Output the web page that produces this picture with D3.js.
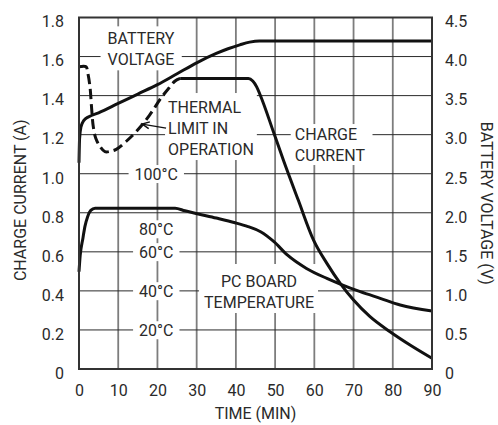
<!DOCTYPE html>
<html>
<head>
<meta charset="utf-8">
<script src="https://cdn.jsdelivr.net/npm/d3@7"></script>
<style>
  html, body { margin: 0; padding: 0; background: #fff; }
  svg { display: block; }
  text { font-family: Roboto, "Liberation Sans", sans-serif; font-size: 16px; fill: #2a2a2a; }
</style>
</head>
<body>
<svg id="chart" width="498" height="425"></svg>
<script>
// ---------- data ----------
const xTicks = [0, 10, 20, 30, 40, 50, 60, 70, 80, 90];
const yLeftTicks = [0, 0.2, 0.4, 0.6, 0.8, 1.0, 1.2, 1.4, 1.6, 1.8];
const yLeftTickLabels = ["0", "0.2", "0.4", "0.6", "0.8", "1.0", "1.2", "1.4", "1.6", "1.8"];
const yRightTicks = [0, 0.5, 1.0, 1.5, 2.0, 2.5, 3.0, 3.5, 4.0, 4.5];
const yRightTickLabels = ["0", "0.5", "1.0", "1.5", "2.0", "2.5", "3.0", "3.5", "4.0", "4.5"];

// Battery voltage (V), time in minutes
const voltTime = [0, 0.15, 0.5, 1.2, 2.5, 5, 10, 15, 20, 25, 30, 35, 38, 41, 43.5, 46, 90];
const voltValue = [2.64, 2.95, 3.1, 3.18, 3.23, 3.28, 3.4, 3.52, 3.64, 3.78, 3.92, 4.04, 4.1, 4.15, 4.185, 4.2, 4.2];

// Charge current (A) while thermal limit in operation (dashed)
const limitTime = [0, 1.8, 2.2, 2.8, 3.2, 3.65, 4.3, 5.4, 6.6, 8, 9.5, 12, 15, 18, 21, 23, 24.5, 25.8];
const limitValue = [1.548, 1.548, 1.52, 1.445, 1.34, 1.24, 1.18, 1.138, 1.113, 1.115, 1.125, 1.165, 1.225, 1.3, 1.39, 1.44, 1.475, 1.488];

// Charge current (A), solid
const currentTime = [25.8, 43.2, 44.3, 45.3, 46.2, 49.7, 52.1, 55.9, 59.8, 63.2, 66.6, 70, 74.2, 79.3, 84.4, 90];
const currentValue = [1.488, 1.488, 1.475, 1.445, 1.403, 1.207, 1.07, 0.865, 0.66, 0.541, 0.439, 0.353, 0.268, 0.191, 0.123, 0.055];

// PC board temperature (°C)
const tempTime = [0, 0.3, 1.0, 1.5, 2.2, 3, 4.1, 23.6, 24.5, 27, 30.4, 35, 39.8, 43.1, 46.3, 49.7, 53.1, 58, 63.2, 66.6, 71.7, 76.8, 81.9, 90];
const tempValue = [49.8, 58, 67, 72.9, 78, 81.2, 82.3, 82.3, 82.3, 81, 79.4, 77.3, 74.9, 72.9, 70.3, 65.2, 58.4, 51.5, 46.4, 43.5, 39.6, 36.2, 32.8, 29.7];

// temperature scale labels (°C), placed along the 20-minute line
const tempLabels = ["20°C", "40°C", "60°C", "80°C", "100°C"];
const tempLabelPos = [20, 40, 60, 71.7, 100];

// ---------- layout ----------
const svg = d3.select("#chart");
const margin = { left: 79, top: 17.5, right: 66, bottom: 56 };
const W = 498, H = 425;
const x = d3.scaleLinear().domain([0, 90]).range([margin.left, W - margin.right]);
const yL = d3.scaleLinear().domain([0, 1.8]).range([H - margin.bottom, margin.top]);
const yR = d3.scaleLinear().domain([0, 4.5]).range([H - margin.bottom, margin.top]);
const tempToAmp = c => c / 100;

const gGrid = svg.append("g");
const gBg = svg.append("g");
const gLines = svg.append("g");
const gText = svg.append("g");

// grid lines
gGrid.selectAll("line.v").data(xTicks.slice(1, -1)).join("line")
  .attr("x1", d => x(d)).attr("x2", d => x(d))
  .attr("y1", yL(0)).attr("y2", yL(1.8))
  .attr("stroke", "#7d7d7d").attr("stroke-width", 1.8);
gGrid.selectAll("line.h").data(yLeftTicks.slice(1, -1)).join("line")
  .attr("x1", x(0)).attr("x2", x(90))
  .attr("y1", d => yL(d)).attr("y2", d => yL(d))
  .attr("stroke", "#2a2a2a").attr("stroke-width", 1);

// axes (labels only, no tick marks)
const axL = d3.axisLeft(yL).tickValues(yLeftTicks).tickFormat((d, i) => yLeftTickLabels[i]).tickSize(0).tickPadding(15);
const axR = d3.axisRight(yR).tickValues(yRightTicks).tickFormat((d, i) => yRightTickLabels[i]).tickSize(0).tickPadding(13);
const axB = d3.axisBottom(x).tickValues(xTicks).tickSize(0).tickPadding(16);
[[axL, `translate(${x(0)},0)`, "0.58em"], [axR, `translate(${x(90)},0)`, "0.58em"], [axB, `translate(0,${yL(0)})`, null]].forEach(([ax, tr, dy]) => {
  const g = svg.append("g").attr("transform", tr).call(ax);
  g.select(".domain").remove();
  const t = g.selectAll("text").attr("font-family", "Roboto, 'Liberation Sans', sans-serif").attr("font-size", 16).attr("fill", "#2a2a2a");
  if (dy) t.attr("dy", dy);
});

// curves
const line = d3.line().curve(d3.curveMonotoneX);
gLines.append("path")
  .attr("d", line(voltTime.map((t, i) => [x(t), yR(voltValue[i])])))
  .attr("fill", "none").attr("stroke", "#111").attr("stroke-width", 3);
gLines.append("path")
  .attr("d", d3.line().curve(d3.curveCatmullRom)(limitTime.map((t, i) => [x(t), yL(limitValue[i])])))
  .attr("fill", "none").attr("stroke", "#111").attr("stroke-width", 3).attr("stroke-dasharray", "10,5");
gLines.append("path")
  .attr("d", line(currentTime.map((t, i) => [x(t), yL(currentValue[i])])))
  .attr("fill", "none").attr("stroke", "#111").attr("stroke-width", 3);
gLines.append("path")
  .attr("d", line(tempTime.map((t, i) => [x(t), yL(tempToAmp(tempValue[i]))])))
  .attr("fill", "none").attr("stroke", "#111").attr("stroke-width", 3);

// frame
svg.append("rect").attr("x", x(0)).attr("y", yL(1.8))
  .attr("width", x(90) - x(0)).attr("height", yL(0) - yL(1.8))
  .attr("fill", "none").attr("stroke", "#333").attr("stroke-width", 2);

// labels with white backgrounds that cut the grid
function label(lines, tx, ty, anchor, pad) {
  const g = gText.append("g");
  lines.forEach((s, i) => {
    g.append("text").attr("x", x(tx)).attr("y", yL(ty) + i * 21).attr("text-anchor", anchor).text(s);
  });
  const b = g.node().getBBox();
  gBg.append("rect")
    .attr("x", b.x - pad[3]).attr("y", b.y - pad[0])
    .attr("width", b.width + pad[1] + pad[3]).attr("height", b.height + pad[0] + pad[2])
    .attr("fill", "#fff");
}
label(["BATTERY", "VOLTAGE"], 15.8, (369 - 44.3) / 195.3, "middle", [3, 7, 1, 7]);
label(["THERMAL", "LIMIT IN", "OPERATION"], 22.7, (369 - 113) / 195.3, "start", [5, 3, 1, 3]);
label(["CHARGE", "CURRENT"], 55, (369 - 140) / 195.3, "start", [1, 7, 0, 4]);
label(["PC BOARD", "TEMPERATURE"], 45.9, (369 - 287) / 195.3, "middle", [8, 4, 1, 5]);
tempLabels.forEach((s, i) => {
  const a = tempToAmp(tempLabelPos[i]);
  label([s], 19.7, a - 6.3 / 195.3, "middle", [0, 6, -1, 6]);
});

// arrow for thermal limit
const arrowFrom = [22.2, 1.234], arrowTo = [16.1, 1.254];
const ax1 = x(arrowFrom[0]), ay1 = yL(arrowFrom[1]), ax2 = x(arrowTo[0]), ay2 = yL(arrowTo[1]);
gText.append("line").attr("x1", ax1).attr("y1", ay1).attr("x2", ax2).attr("y2", ay2)
  .attr("stroke", "#111").attr("stroke-width", 1.3);
const ang = Math.atan2(ay1 - ay2, ax1 - ax2);
const hl = 8, hw = 0.45;
gText.append("path")
  .attr("d", `M${ax2 + hl * Math.cos(ang + hw)},${ay2 + hl * Math.sin(ang + hw)} L${ax2},${ay2} L${ax2 + hl * Math.cos(ang - hw)},${ay2 + hl * Math.sin(ang - hw)}`)
  .attr("fill", "none").attr("stroke", "#111").attr("stroke-width", 1.5);

// axis titles
svg.append("text").attr("x", (x(0) + x(90)) / 2).attr("y", 419).attr("text-anchor", "middle").text("TIME (MIN)");
svg.append("text").attr("transform", `translate(26,${(yL(0) + yL(1.8)) / 2 + 7}) rotate(-90)`).attr("text-anchor", "middle").text("CHARGE CURRENT (A)");
svg.append("text").attr("transform", `translate(481,${(yL(0) + yL(1.8)) / 2 + 10}) rotate(90)`).attr("text-anchor", "middle").text("BATTERY VOLTAGE (V)");
</script>
</body>
</html>
